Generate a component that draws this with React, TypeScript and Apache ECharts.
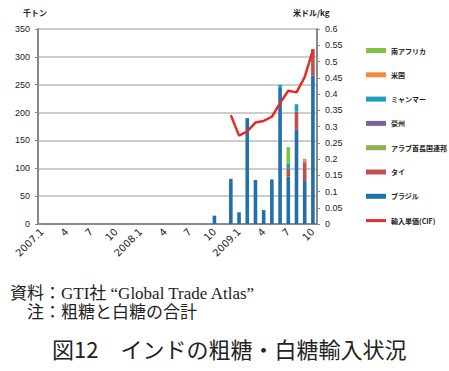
import React, { useEffect, useRef } from "react";
import * as echarts from "echarts";

const categories = [
  "2007.1","2007.2","2007.3","2007.4","2007.5","2007.6","2007.7","2007.8","2007.9","2007.10","2007.11","2007.12",
  "2008.1","2008.2","2008.3","2008.4","2008.5","2008.6","2008.7","2008.8","2008.9","2008.10","2008.11","2008.12",
  "2009.1","2009.2","2009.3","2009.4","2009.5","2009.6","2009.7","2009.8","2009.9","2009.10",
];

// 千トン
const brazil = [0,0,0,0,0,0,0,0,0,0,0,0, 0,0,0,0,0,0,0,0,0,15,0,81, 21,190,79,25,80,244,85,169,77,266];
const thai = [0,0,0,0,0,0,0,0,0,0,0,0, 0,0,0,0,0,0,0,0,0,0,0,0, 0,0,0,0,0,0,14,33,32,48];
const uae = [0,0,0,0,0,0,0,0,0,0,0,0, 0,0,0,0,0,0,0,0,0,0,0,0, 0,0,0,0,0,0,0,0,0,0];
const australia = [0,0,0,0,0,0,0,0,0,0,0,0, 0,0,0,0,0,0,0,0,0,0,0,0, 0,0,0,0,0,0,0,0,3,0];
const myanmar = [0,0,0,0,0,0,0,0,0,0,0,0, 0,0,0,0,0,0,0,0,0,0,0,0, 0,0,0,0,0,6,9,13,0,0];
const usa = [0,0,0,0,0,0,0,0,0,0,0,0, 0,0,0,0,0,0,0,0,0,0,0,0, 0,0,0,0,0,0,0,0,5,0];
const southAfrica = [0,0,0,0,0,0,0,0,0,0,0,0, 0,0,0,0,0,0,0,0,0,0,0,0, 0,0,0,0,0,0,30,0,0,0];
// 米ドル/kg
const unitPrice = [null,null,null,null,null,null,null,null,null,null,null,null,
  null,null,null,null,null,null,null,null,null,null,null,0.335,
  0.272,0.285,0.312,0.317,0.33,0.372,0.41,0.405,0.452,0.535];

const JP = "'Noto Sans CJK JP', sans-serif";
const LAT = "'Liberation Sans', 'Noto Sans CJK JP', sans-serif";
const SERIF = "'Liberation Serif', 'Noto Sans CJK JP', serif";

export default function App() {
  const ref = useRef<HTMLDivElement>(null);
  useEffect(() => {
    if (!ref.current) return;
    const chart = echarts.init(ref.current, null, { renderer: "svg" });
    const barSeries = (name: string, data: number[], color: string) => ({
      name, type: "bar", stack: "total", data, barWidth: "44%",
      itemStyle: { color }, yAxisIndex: 0,
    });
    chart.setOption({
      animation: false,
      backgroundColor: "#ffffff",
      grid: { left: 38, right: 132, top: 29, bottom: 147 },
      legend: {
        orient: "vertical", left: 361, top: 40.5, itemWidth: 20, itemHeight: 5, itemGap: 14.3,
        textStyle: { fontFamily: JP, fontSize: 7, fontWeight: "bold", color: "#222", lineHeight: 10 },
        data: [
          { name: "南アフリカ", icon: "rect" },
          { name: "米国", icon: "rect" },
          { name: "ミャンマー", icon: "rect" },
          { name: "豪州", icon: "rect" },
          { name: "アラブ首長国連邦", icon: "rect" },
          { name: "タイ", icon: "rect" },
          { name: "ブラジル", icon: "rect" },
          { name: "輸入単価(CIF)", icon: "path://M0,0H20V3H0Z", itemStyle: { color: "#e52a2a" } },
        ],
      },
      xAxis: {
        type: "category", data: categories,
        axisLine: { lineStyle: { color: "#8a8a8a", width: 2 } },
        axisTick: { show: false },
        axisLabel: {
          interval: 2, rotate: 45, fontFamily: "'DejaVu Sans', sans-serif", fontSize: 10, color: "#222", margin: 6,
          formatter: (v: string) => { const m = v.split(".")[1]; return m === "1" ? v : m; },
        },
      },
      yAxis: [
        {
          type: "value", min: 0, max: 350, interval: 50,
          axisLine: { show: true, lineStyle: { color: "#8a8a8a", width: 2 } },
          axisTick: { show: true, length: 3, lineStyle: { color: "#8a8a8a" } },
          axisLabel: { fontFamily: LAT, fontSize: 9, color: "#222", margin: 8 },
          splitLine: { lineStyle: { color: "#bdbdbd", width: 1.5 } },
        },
        {
          type: "value", min: 0, max: 0.6, interval: 0.05, position: "right",
          axisLine: { show: true, lineStyle: { color: "#8a8a8a", width: 2 } },
          axisTick: { show: true, length: 3, lineStyle: { color: "#8a8a8a" } },
          axisLabel: { fontFamily: LAT, fontSize: 9, color: "#222", margin: 8 },
          splitLine: { show: false },
        },
      ],
      series: [
        barSeries("ブラジル", brazil, "#2270a9"),
        barSeries("タイ", thai, "#c0504d"),
        barSeries("アラブ首長国連邦", uae, "#8fae4f"),
        barSeries("豪州", australia, "#7f5fa0"),
        barSeries("ミャンマー", myanmar, "#1fa0b8"),
        barSeries("米国", usa, "#f58a3c"),
        barSeries("南アフリカ", southAfrica, "#7dc443"),
        {
          name: "輸入単価(CIF)", type: "line", yAxisIndex: 1, data: unitPrice,
          symbol: "none", showSymbol: false, connectNulls: false,
          lineStyle: { color: "#e52a2a", width: 2.5 }, itemStyle: { color: "#e52a2a" },
        },
      ],
      graphic: [
        { type: "text", left: 23, top: 8, style: { text: "千トン", fontFamily: JP, fontSize: 8, fontWeight: "bold", fill: "#222" } },
        { type: "text", left: 293, top: 8, style: { text: "米ドル/kg", fontFamily: JP, fontSize: 8, fontWeight: "bold", fill: "#222" } },
        { type: "text", left: 10, top: 285, style: { text: "資料：GTI社 “Global Trade Atlas”", fontFamily: SERIF, fontSize: 17, fill: "#222" } },
        { type: "text", left: 27, top: 304, style: { text: "注：粗糖と白糖の合計", fontFamily: SERIF, fontSize: 17, fill: "#222" } },
        { type: "text", left: 52, top: 337, style: { text: "図12　インドの粗糖・白糖輸入状況", fontFamily: JP, fontSize: 22, fill: "#222" } },
      ],
    });
    return () => chart.dispose();
  }, []);
  return (
    <div
      ref={ref}
      style={{ position: "absolute", left: 0, top: 0, width: 449, height: 371, background: "#fff" }}
    />
  );
}
